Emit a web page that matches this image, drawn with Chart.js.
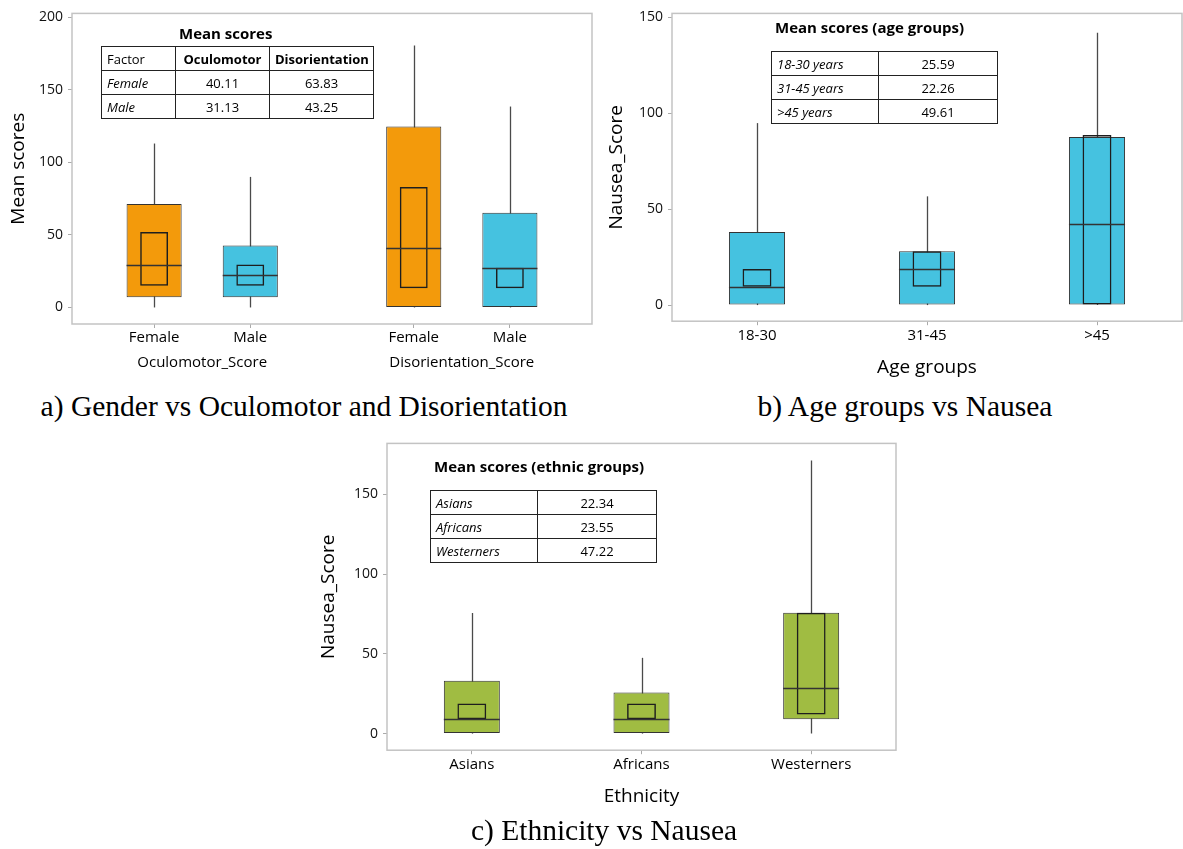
<!DOCTYPE html>
<html>
<head>
<meta charset="utf-8">
<title>Mean scores box plots</title>
<script src="https://cdn.jsdelivr.net/npm/chart.js@4.4.1/dist/chart.umd.min.js"></script>
<style>
  body { margin: 0; background: #fff; }
  #page { position: relative; width: 1183px; height: 849px; overflow: hidden; font-family: "Open Sans", sans-serif; color: #000; }
  canvas { position: absolute; }
  .caption { position: absolute; font-family: "Liberation Serif", "Times New Roman", serif; font-size: 29.5px; line-height: 34px; white-space: nowrap; transform: translateX(-50%); color: #000; }
  .ttl { position: absolute; font-weight: bold; font-size: 15px; line-height: 20px; white-space: nowrap; color: #000; }
  table.means { position: absolute; border-collapse: collapse; table-layout: fixed; font-size: 13px; color: #000; }
  table.means td { border: 1px solid #222; height: 23px; padding: 0 5px; line-height: 22px; white-space: nowrap; overflow: hidden; }
  table.means td.lab { font-style: italic; text-align: left; }
  table.means td.num { text-align: center; }
  table.means td.head { font-weight: bold; text-align: center; }
</style>
</head>
<body>
<div id="page">
  <canvas id="chartA" width="600" height="380" style="left:0;top:0"></canvas>
  <canvas id="chartB" width="583" height="384" style="left:600px;top:0"></canvas>
  <canvas id="chartC" width="590" height="419" style="left:310px;top:430px"></canvas>

  <div class="ttl" style="left:179px;top:23px">Mean scores</div>
  <table class="means" id="tableA" style="left:101px;top:46px;width:272px">
    <colgroup><col style="width:74px"><col style="width:94px"><col style="width:104px"></colgroup>
  </table>

  <div class="ttl" style="left:775px;top:17px">Mean scores (age groups)</div>
  <table class="means" id="tableB" style="left:771px;top:51px;width:226px">
    <colgroup><col style="width:107px"><col style="width:119px"></colgroup>
  </table>

  <div class="ttl" style="left:434px;top:456px">Mean scores (ethnic groups)</div>
  <table class="means" id="tableC" style="left:430px;top:490px;width:226px">
    <colgroup><col style="width:107px"><col style="width:119px"></colgroup>
  </table>

  <div class="caption" style="left:304px;top:389px">a) Gender vs Oculomotor and Disorientation</div>
  <div class="caption" style="left:905px;top:389px">b) Age groups vs Nausea</div>
  <div class="caption" style="left:604px;top:813px">c) Ethnicity vs Nausea</div>
</div>

<script>
// ---- a) gender vs oculomotor / disorientation ----
const genderLabels = ['Female', 'Male', 'Female', 'Male'];
const genderGroupOf = [0, 0, 1, 1];
const genderGroups = ['Oculomotor_Score', 'Disorientation_Score'];
const genderMin = [0, 0, 0, 0];
const genderQ1 = [7, 7, 0, 0];
const genderMedian = [29.5, 22.1, 41.1, 27.3];
const genderQ3 = [71.4, 42.7, 124.8, 65.3];
const genderMax = [113, 90, 180.5, 138.5];
const genderCiLow = [15, 15, 13.2, 13.2];
const genderCiHigh = [52.1, 29.7, 83, 27.3];
const genderTicks = [0, 50, 100, 150, 200];

const tableFactors = ['Female', 'Male'];
const meanOculomotor = [40.11, 31.13];
const meanDisorientation = [63.83, 43.25];

// ---- b) age groups vs nausea ----
const ageLabels = ['18-30', '31-45', '>45'];
const ageMin = [0, 0, 0];
const ageQ1 = [0, 0, 0];
const ageMedian = [9.5, 19, 42.4];
const ageQ3 = [38.1, 28.1, 87.6];
const ageMax = [94.9, 56.7, 142];
const ageCiLow = [9.5, 9.5, 0];
const ageCiHigh = [18.8, 28.1, 88.7];
const ageTicks = [0, 50, 100, 150];
const ageTableLabels = ['18-30 years', '31-45 years', '>45 years'];
const ageMeans = [25.59, 22.26, 49.61];

// ---- c) ethnicity vs nausea ----
const ethLabels = ['Asians', 'Africans', 'Westerners'];
const ethMin = [0, 0, 0];
const ethQ1 = [0, 0, 9];
const ethMedian = [9, 9, 28.3];
const ethQ3 = [33.2, 25.8, 75.8];
const ethMax = [75.6, 47.5, 171.2];
const ethCiLow = [9, 9, 11.9];
const ethCiHigh = [18.8, 18.8, 75.8];
const ethTicks = [0, 50, 100, 150];
const ethTableLabels = ['Asians', 'Africans', 'Westerners'];
const ethMeans = [22.34, 23.55, 47.22];

const ORANGE = '#F39A0B';
const BLUE = '#45C2E0';
const GREEN = '#A0BC42';

Chart.defaults.font.family = '"Open Sans", sans-serif';
Chart.defaults.animation = false;

// frame, whiskers and median lines, drawn through the chart's scales
function boxParts(stats) {
  return {
    id: 'boxParts',
    beforeDatasetsDraw(chart) {
      const { ctx, chartArea: a, scales: { y } } = chart;
      ctx.save();
      ctx.strokeStyle = '#c3c3c3';
      ctx.lineWidth = 1.5;
      ctx.strokeRect(a.left, a.top, a.right - a.left, a.bottom - a.top);
      ctx.strokeStyle = '#4a4a4a';
      ctx.lineWidth = 1.3;
      chart.getDatasetMeta(1).data.forEach((bar, i) => {
        const x = Math.round(bar.x) + 0.5;
        ctx.beginPath();
        ctx.moveTo(x, y.getPixelForValue(stats.min[i]));
        ctx.lineTo(x, y.getPixelForValue(stats.max[i]));
        ctx.stroke();
      });
      ctx.restore();
    },
    afterDatasetsDraw(chart) {
      const { ctx, scales: { y } } = chart;
      ctx.save();
      ctx.strokeStyle = '#333';
      ctx.lineWidth = 1.4;
      chart.getDatasetMeta(1).data.forEach((bar, i) => {
        const yy = Math.round(y.getPixelForValue(stats.median[i])) + 0.5;
        ctx.beginPath();
        ctx.moveTo(bar.x - bar.width / 2, yy);
        ctx.lineTo(bar.x + bar.width / 2, yy);
        ctx.stroke();
      });
      ctx.restore();
    }
  };
}

function yAxis(min, max, ticks, title, titlePad, width) {
  return {
    min, max,
    afterBuildTicks: s => { s.ticks = ticks.map(v => ({ value: v })); },
    afterFit: s => { s.width = width; },
    grid: { drawOnChartArea: false, tickLength: 4, color: '#aaa' },
    border: { display: false },
    ticks: { padding: 5, color: '#111', font: { size: 14 } },
    title: { display: true, text: title, color: '#000', font: { size: 19 }, padding: { top: titlePad, bottom: 0 } }
  };
}

function categoryX(title) {
  return {
    grid: { offset: false, drawOnChartArea: false, tickLength: 4, color: '#aaa' },
    border: { display: false },
    ticks: { padding: 2, color: '#000', font: { size: 15 }, maxRotation: 0 },
    title: { display: true, text: title, color: '#000', font: { size: 19 }, padding: { top: 9, bottom: 4 } }
  };
}

function boxDatasets(points, ciPoints, colors, boxPct, ciPct) {
  return [
    {
      label: 'Median CI', data: ciPoints, backgroundColor: 'rgba(0,0,0,0)',
      borderColor: '#1e1e1e', borderWidth: 1.5, borderSkipped: false,
      grouped: false, categoryPercentage: 1, barPercentage: ciPct, order: 0
    },
    {
      label: 'Box', data: points, backgroundColor: colors,
      borderColor: '#333', borderWidth: 1, borderSkipped: false,
      grouped: false, categoryPercentage: 1, barPercentage: boxPct, order: 1
    }
  ];
}

const baseOpts = {
  responsive: false,
  plugins: { legend: { display: false }, tooltip: { enabled: false } }
};

// a)
const genderX = genderLabels.map((_, i) => 1 + i + genderGroupOf[i] * 0.7);
const groupCenters = genderGroups.map((_, g) => {
  const xs = genderX.filter((_, i) => genderGroupOf[i] === g);
  return (xs[0] + xs[xs.length - 1]) / 2;
});
const xMinA = 0.146, xMaxA = 5.554;

new Chart(document.getElementById('chartA'), {
  type: 'bar',
  data: {
    datasets: boxDatasets(
      genderX.map((x, i) => ({ x, y: [genderQ1[i], genderQ3[i]] })),
      genderX.map((x, i) => ({ x, y: [genderCiLow[i], genderCiHigh[i]] })),
      genderLabels.map(l => (l === 'Female' ? ORANGE : BLUE)),
      0.573, 0.29
    )
  },
  options: {
    ...baseOpts,
    layout: { padding: { top: 12, right: 8, left: 0, bottom: 2 } },
    scales: {
      x: {
        type: 'linear', min: xMinA, max: xMaxA, offset: false,
        afterBuildTicks: s => { s.ticks = genderX.map(v => ({ value: v })); },
        grid: { offset: false, drawOnChartArea: false, tickLength: 4, color: '#aaa' },
        border: { display: false },
        ticks: { callback: (v, i) => genderLabels[i], padding: 1, color: '#000', font: { size: 15 }, maxRotation: 0 }
      },
      x2: {
        type: 'linear', axis: 'x', position: 'bottom', weight: 1, min: xMinA, max: xMaxA, offset: false,
        afterBuildTicks: s => { s.ticks = groupCenters.map(v => ({ value: v })); },
        grid: { display: false, drawTicks: false },
        border: { display: false },
        ticks: { callback: (v, i) => genderGroups[i], padding: 6, color: '#000', font: { size: 15 }, maxRotation: 0 }
      },
      y: yAxis(-11.4, 202.7, genderTicks, 'Mean scores', 7, 72)
    }
  },
  plugins: [boxParts({ min: genderMin, max: genderMax, median: genderMedian })]
});

// b)
new Chart(document.getElementById('chartB'), {
  type: 'bar',
  data: {
    labels: ageLabels,
    datasets: boxDatasets(
      ageLabels.map((_, i) => [ageQ1[i], ageQ3[i]]),
      ageLabels.map((_, i) => [ageCiLow[i], ageCiHigh[i]]),
      BLUE, 0.33, 0.17
    )
  },
  options: {
    ...baseOpts,
    layout: { padding: { top: 13, right: 1, left: 0, bottom: 1 } },
    scales: {
      x: categoryX('Age groups'),
      y: yAxis(-8.4, 152.1, ageTicks, 'Nausea_Score', 5, 72)
    }
  },
  plugins: [boxParts({ min: ageMin, max: ageMax, median: ageMedian })]
});

// c)
new Chart(document.getElementById('chartC'), {
  type: 'bar',
  data: {
    labels: ethLabels,
    datasets: boxDatasets(
      ethLabels.map((_, i) => [ethQ1[i], ethQ3[i]]),
      ethLabels.map((_, i) => [ethCiLow[i], ethCiHigh[i]]),
      GREEN, 0.33, 0.17
    )
  },
  options: {
    ...baseOpts,
    layout: { padding: { top: 9, right: 4, left: 0, bottom: 37 } },
    scales: {
      x: categoryX('Ethnicity'),
      y: yAxis(-10.4, 181.9, ethTicks, 'Nausea_Score', 7, 77)
    }
  },
  plugins: [boxParts({ min: ethMin, max: ethMax, median: ethMedian })]
});

// mean score tables
function addRow(table, cells) {
  const tr = document.createElement('tr');
  cells.forEach(([text, cls]) => {
    const td = document.createElement('td');
    td.textContent = text;
    td.className = cls;
    tr.appendChild(td);
  });
  table.appendChild(tr);
}

const tA = document.getElementById('tableA');
addRow(tA, [['Factor', ''], ['Oculomotor', 'head'], ['Disorientation', 'head']]);
tableFactors.forEach((f, i) => addRow(tA, [[f, 'lab'], [meanOculomotor[i].toFixed(2), 'num'], [meanDisorientation[i].toFixed(2), 'num']]));

const tB = document.getElementById('tableB');
ageTableLabels.forEach((l, i) => addRow(tB, [[l, 'lab'], [ageMeans[i].toFixed(2), 'num']]));

const tC = document.getElementById('tableC');
ethTableLabels.forEach((l, i) => addRow(tC, [[l, 'lab'], [ethMeans[i].toFixed(2), 'num']]));
</script>
</body>
</html>
